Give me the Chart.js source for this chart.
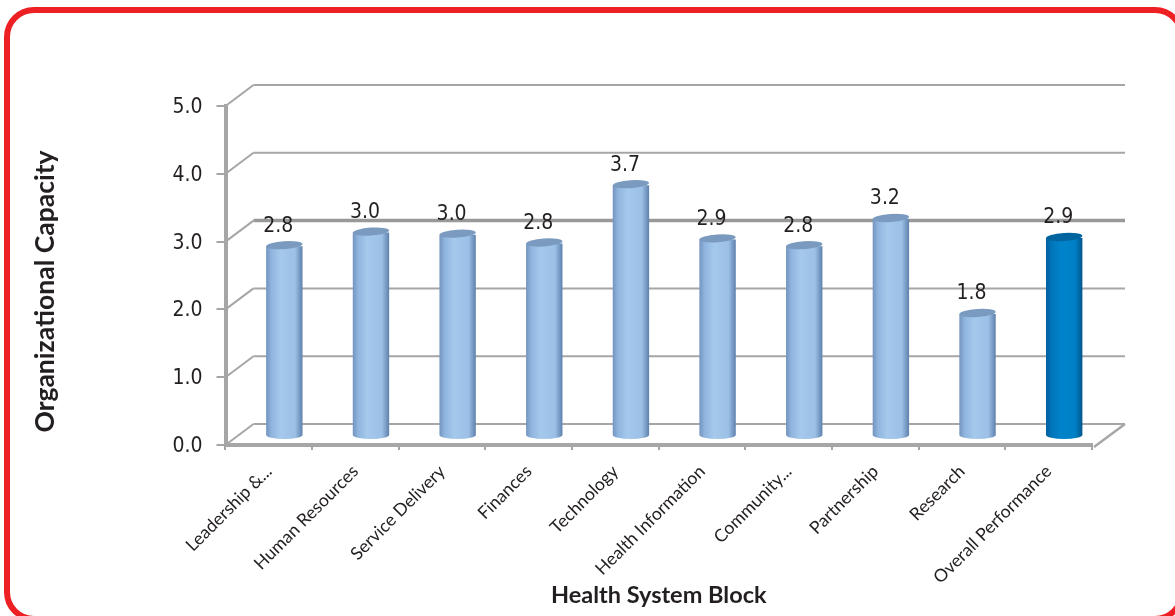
<!DOCTYPE html>
<html>
<head>
<meta charset="utf-8">
<style>
    body { margin: 0; background: #fff; overflow: hidden; }
    #frame { position: absolute; left: 4px; top: 7px; width: 1169px; height: 602.5px; border: 6px solid #ed2024; border-radius: 30px; }
    #capacityChart { position: absolute; left: 0; top: 0; }
</style>
</head>
<body>
<canvas id="capacityChart" width="1175" height="616"></canvas>
<div id="frame"></div>
<script src="https://cdn.jsdelivr.net/npm/chart.js@4"></script>
<script>
const categories = ['Leadership &...', 'Human Resources', 'Service Delivery', 'Finances', 'Technology', 'Health Information', 'Community...', 'Partnership', 'Research', 'Overall Performance'];
const capacityValues = [2.8, 3.0, 2.97, 2.84, 3.7, 2.9, 2.8, 3.2, 1.8, 2.92];
const yTickLabels = ['0.0', '1.0', '2.0', '3.0', '4.0', '5.0'];
const xAxisName = 'Health System Block';
const yAxisName = 'Organizational Capacity';

const axisColor = '#a6a6a6';
const textColor = '#231f20';
const numberFont = '"DejaVu Sans Condensed", "DejaVu Sans"';
const wallOffset = { x: 28, y: -21 }; // how far the back wall sits behind the front axes
const barOffset = { x: 15.5, y: -9 };  // bars stand on the middle of the floor
const lastIndex = categories.length - 1;

function barGradient(context) {
    const chart = context.chart;
    const highlighted = context.dataIndex === lastIndex;
    const centre = chart.scales.x ? chart.scales.x.getPixelForValue(context.dataIndex) : NaN;
    if (!Number.isFinite(centre)) return '#a3c7ea';
    const g = chart.ctx.createLinearGradient(centre - 18, 0, centre + 18, 0);
    const stops = highlighted
        ? ['#005f9e', '#0074b8', '#0083ca', '#0080c6', '#00578f']
        : ['#7495c0', '#8fb4de', '#a5c9ec', '#9cc0e6', '#5f83ae'];
    g.addColorStop(0, stops[0]);
    g.addColorStop(0.14, stops[1]);
    g.addColorStop(0.4, stops[2]);
    g.addColorStop(0.8, stops[3]);
    g.addColorStop(1, stops[4]);
    return g;
}

// back wall, floor and side lines of the fake 3D box
const wallPlugin = {
    id: 'wall',
    beforeDatasetsDraw(chart) {
        const ctx = chart.ctx;
        const y = chart.scales.y;
        const area = chart.chartArea;
        ctx.save();
        y.ticks.forEach((tick, i) => {
            const py = y.getPixelForTick(i);
            ctx.lineWidth = 2;
            ctx.strokeStyle = axisColor;
            ctx.beginPath();
            ctx.moveTo(area.left, py);
            ctx.lineTo(area.left + wallOffset.x, py + wallOffset.y);
            ctx.stroke();
            ctx.lineWidth = tick.value === 3 ? 3.5 : 2;
            ctx.strokeStyle = tick.value === 3 ? '#999999' : axisColor;
            ctx.beginPath();
            ctx.moveTo(area.left + wallOffset.x, py + wallOffset.y);
            ctx.lineTo(1125, py + wallOffset.y);
            ctx.stroke();
        });
        ctx.lineWidth = 2.5;
        ctx.strokeStyle = axisColor;
        ctx.beginPath();
        ctx.moveTo(area.right + 2, area.bottom + 2);
        ctx.lineTo(1125, area.bottom + wallOffset.y);
        ctx.stroke();
        ctx.restore();

        ctx.save();
        ctx.translate(barOffset.x, barOffset.y);
    },
    afterDatasetsDraw(chart) {
        const ctx = chart.ctx;
        const meta = chart.getDatasetMeta(0);
        meta.data.forEach((bar, i) => {
            const highlighted = i === lastIndex;
            const half = bar.width / 2;
            // rounded foot
            ctx.fillStyle = barGradient({ chart, dataIndex: i });
            ctx.beginPath();
            ctx.ellipse(bar.x, bar.base, half, 4, 0, 0, Math.PI);
            ctx.fill();
            // top cap, tilted a little like the 3D view
            ctx.fillStyle = highlighted ? '#00649f' : '#7a9abf';
            ctx.beginPath();
            ctx.ellipse(bar.x, bar.y - 1, half, 4, -0.07, 0, Math.PI * 2);
            ctx.fill();
        });
        ctx.fillStyle = textColor;
        ctx.font = '21px ' + numberFont;
        ctx.textAlign = 'center';
        ctx.textBaseline = 'middle';
        meta.data.forEach((bar, i) => {
            ctx.fillText(capacityValues[i].toFixed(1), bar.x - 6, bar.y - 20);
        });
        ctx.restore();

        // y title sits a bit below the middle of the axis
        ctx.save();
        ctx.translate(45, 291.5);
        ctx.rotate(-Math.PI / 2);
        ctx.fillStyle = textColor;
        ctx.font = 'bold 26.5px Lato';
        ctx.textAlign = 'center';
        ctx.textBaseline = 'middle';
        ctx.fillText(yAxisName, 0, 0);
        ctx.restore();
    }
};

new Chart(document.getElementById('capacityChart'), {
    type: 'bar',
    data: {
        labels: categories,
        datasets: [{
            data: capacityValues,
            backgroundColor: barGradient,
            borderWidth: 0,
            barPercentage: 0.42,
            categoryPercentage: 1
        }]
    },
    plugins: [wallPlugin],
    options: {
        responsive: false,
        animation: false,
        layout: { padding: { top: 106, right: 83, left: 0, bottom: 0 } },
        plugins: {
            legend: { display: false },
            tooltip: { enabled: false }
        },
        scales: {
            x: {
                afterFit(scale) { scale.height = 171; },
                grid: { drawOnChartArea: false, color: axisColor, lineWidth: 2, tickLength: 5 },
                border: { color: axisColor, width: 4 },
                ticks: {
                    autoSkip: false,
                    minRotation: 45,
                    maxRotation: 45,
                    padding: 11,
                    color: textColor,
                    font: { family: 'Lato', size: 17.6 }
                },
                title: {
                    display: true,
                    text: xAxisName,
                    color: textColor,
                    padding: { top: 0, bottom: 6 },
                    font: { family: 'Lato', size: 23.5, weight: 'bold' }
                }
            },
            y: {
                min: 0,
                max: 5,
                afterFit(scale) { scale.width = 225.5; },
                grid: { drawOnChartArea: false, color: axisColor, lineWidth: 2, tickLength: 9 },
                border: { color: axisColor, width: 4 },
                ticks: {
                    stepSize: 1,
                    padding: 14,
                    labelOffset: 1.5,
                    color: textColor,
                    font: { family: numberFont, size: 21 },
                    callback: (value) => yTickLabels[value]
                }
            }
        }
    }
});
</script>
</body>
</html>
